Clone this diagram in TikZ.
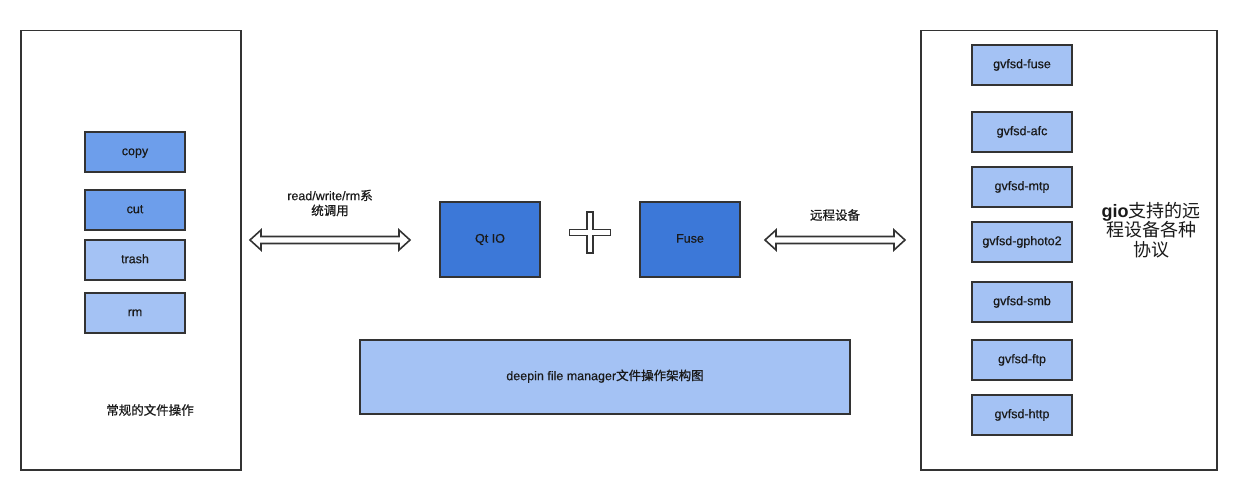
\documentclass[tikz,border=0pt]{standalone}
\usepackage{fontspec}
\setmainfont{Liberation Sans}
\newfontfamily\cjk[FakeBold=0.8]{Noto Sans CJK SC}
\newfontfamily\cjkr{Noto Sans CJK SC}
\newfontfamily\lab[FakeBold=0.4]{Liberation Sans}
\usetikzlibrary{calc}
\definecolor{bordercol}{HTML}{333333}
\definecolor{midblue}{HTML}{6D9EEB}
\definecolor{lightblue}{HTML}{A4C2F4}
\definecolor{darkblue}{HTML}{3C78D8}
\definecolor{txt}{HTML}{1A1A1A}
\tikzset{
  panel/.style={draw=bordercol, line width=1.5pt, fill=white},
  opbox/.style={draw=bordercol, line width=1.6pt, minimum width=100pt, minimum height=40pt, font=\lab\fontsize{12.5}{14}\selectfont, text=txt, text height=1.5ex, text depth=.3ex},
  bigbox/.style={draw=bordercol, line width=1.6pt, fill=darkblue, minimum width=100pt, minimum height=75pt, font=\lab\fontsize{12.5}{14}\selectfont, text=txt, text height=1.5ex, text depth=.3ex},
  lbl/.style={font=\lab\fontsize{12.5}{15}\selectfont, align=center, text=txt},
  arrowline/.style={draw=bordercol, line width=1.6pt, fill=white, line join=miter},
}
\newcommand{\hollowarrow}[2]{%
  \draw[arrowline] let \p1=(#1), \p2=(#2) in
    (\x1,\y1) -- (\x1+11pt,\y1+10pt) -- (\x1+11pt,\y1+3.5pt) -- (\x2-11pt,\y1+3.5pt)
    -- (\x2-11pt,\y1+10pt) -- (\x2,\y1) -- (\x2-11pt,\y1-10pt) -- (\x2-11pt,\y1-3.5pt)
    -- (\x1+11pt,\y1-3.5pt) -- (\x1+11pt,\y1-10pt) -- cycle;}
\begin{document}
\begin{tikzpicture}[x=1pt,y=-1pt]
\useasboundingbox (0,0) rectangle (1236,489);
% left panel
\node[panel, minimum width=220pt, minimum height=439pt, anchor=north west] (left) at (20,30) {};
\node[opbox, fill=midblue] (copy) at (135,152) {copy};
\node[opbox, fill=midblue] (cut) at (135,210) {cut};
\node[opbox, fill=lightblue] (trash) at (135,260) {trash};
\node[opbox, fill=lightblue] (rm) at (135,313) {rm};
\node[lbl] (leftlbl) at (150,410) {\cjk 常规的文件操作};
% right panel
\node[panel, minimum width=296pt, minimum height=439pt, anchor=north west] (right) at (920,30) {};
\node[opbox, fill=lightblue] (fuse) at (1022,65) {gvfsd-fuse};
\node[opbox, fill=lightblue] (afc) at (1022,132) {gvfsd-afc};
\node[opbox, fill=lightblue] (mtp) at (1022,187) {gvfsd-mtp};
\node[opbox, fill=lightblue] (gphoto) at (1022,242) {gvfsd-gphoto2};
\node[opbox, fill=lightblue] (smb) at (1022,302) {gvfsd-smb};
\node[opbox, fill=lightblue] (ftp) at (1022,360) {gvfsd-ftp};
\node[opbox, fill=lightblue] (http) at (1022,415) {gvfsd-http};
\node[font=\fontsize{18}{19.5}\selectfont, align=center, text=txt] (giolbl) at (1151,230) {{\bfseries gio}{\cjkr 支持的远}\\{\cjkr 程设备各种}\\{\cjkr 协议}};
% centre
\node[bigbox] (qtio) at (490,239.5) {Qt IO};
\node[bigbox] (fusebox) at (690,239.5) {Fuse};
\node[opbox, fill=lightblue, minimum width=490pt, minimum height=74pt] (title) at (605,377) {deepin file manager{\cjk 文件操作架构图}};
% plus sign
\coordinate (plus) at (590,232.5);
\draw[arrowline] ($(plus)+(-20.5,-3)$) -- ($(plus)+(-3,-3)$) -- ($(plus)+(-3,-20.5)$) -- ($(plus)+(3,-20.5)$)
  -- ($(plus)+(3,-3)$) -- ($(plus)+(20.5,-3)$) -- ($(plus)+(20.5,3)$) -- ($(plus)+(3,3)$)
  -- ($(plus)+(3,20.5)$) -- ($(plus)+(-3,20.5)$) -- ($(plus)+(-3,3)$) -- ($(plus)+(-20.5,3)$) -- cycle;
% arrows
\coordinate (a1l) at (250,240);
\coordinate (a1r) at (410,240);
\coordinate (a2l) at (765,240);
\coordinate (a2r) at (905,240);
\hollowarrow{a1l}{a1r}
\hollowarrow{a2l}{a2r}
\node[lbl] (a1lbl) at (330,203) {read/write/rm{\cjk 系}\\{\cjk 统调用}};
\node[lbl] (a2lbl) at (835,215) {\cjk 远程设备};
\end{tikzpicture}
\end{document}
